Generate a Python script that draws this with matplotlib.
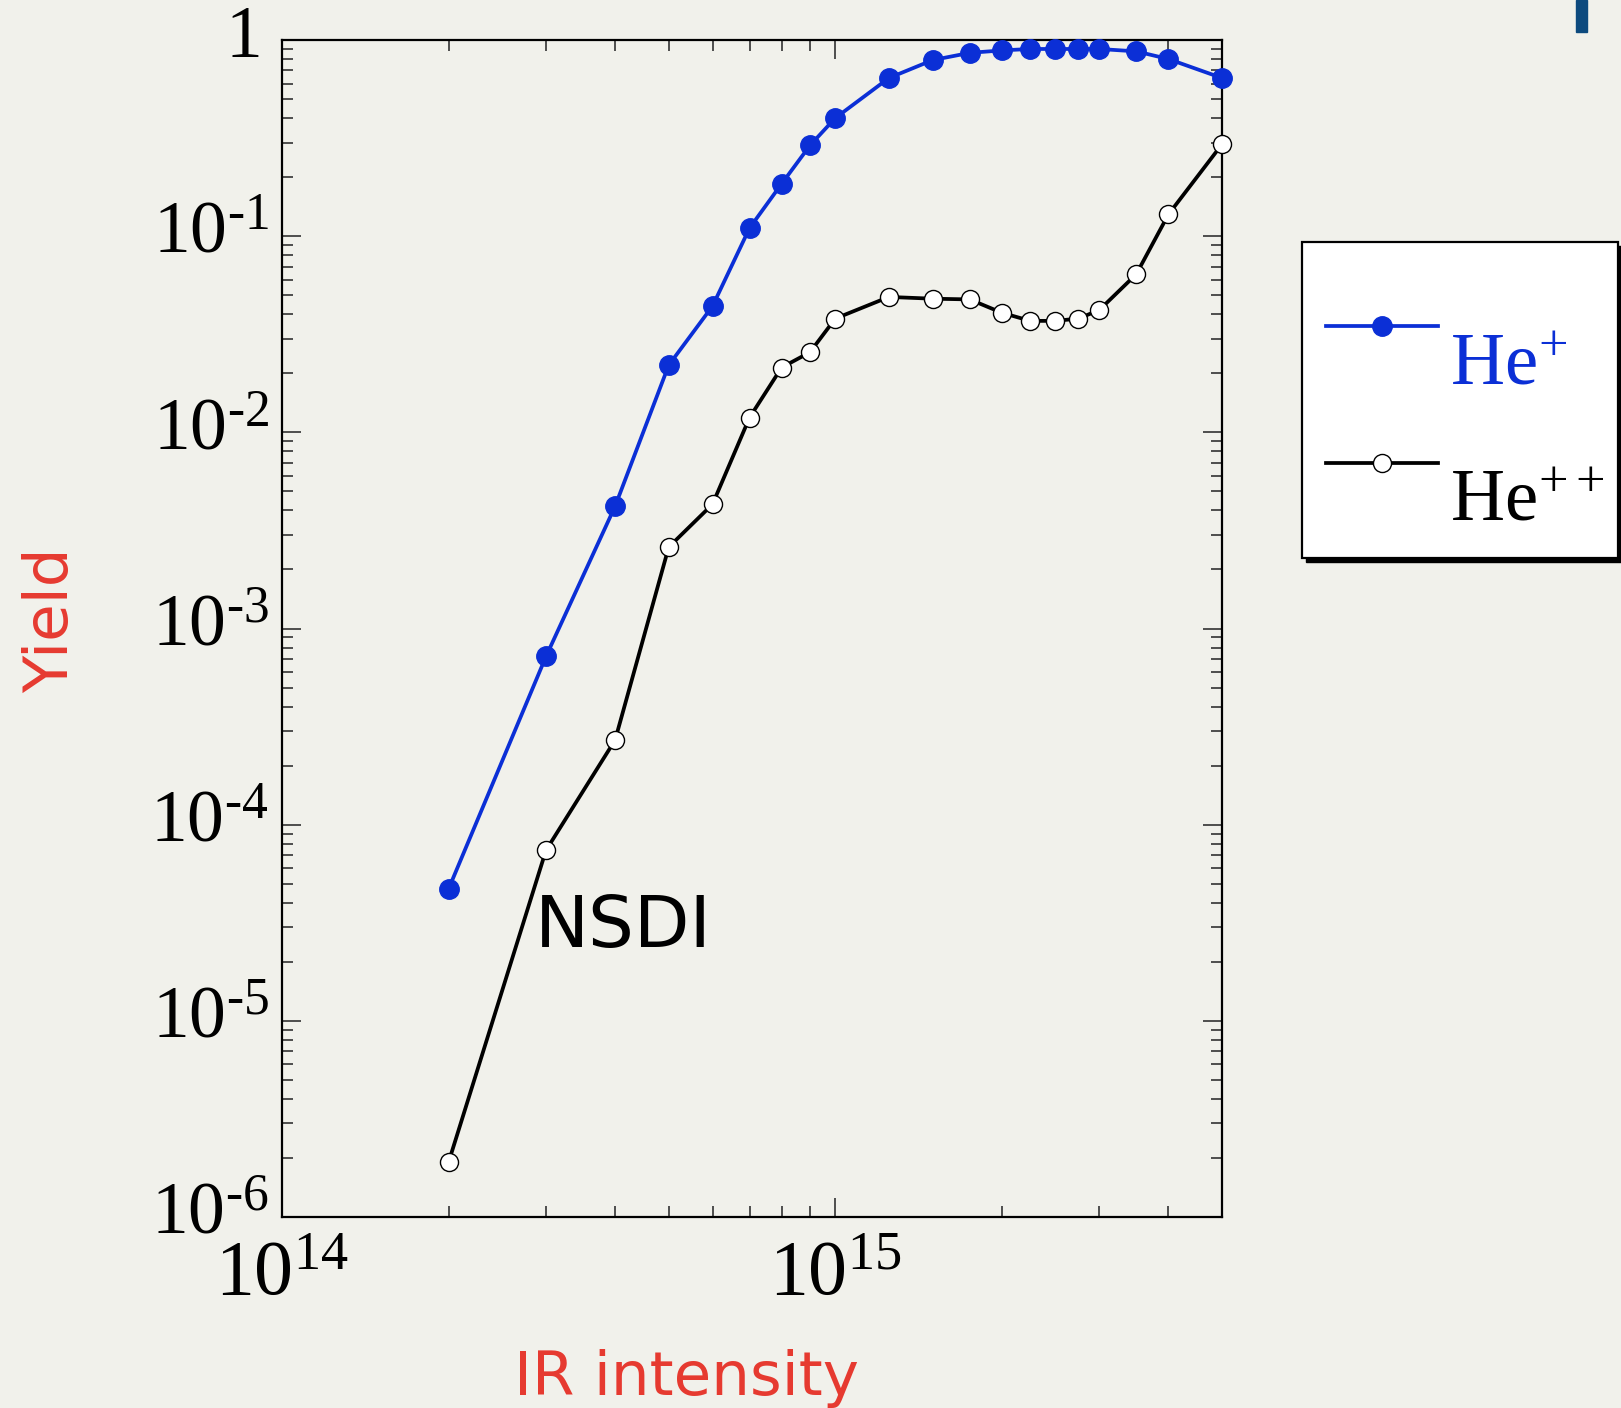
import matplotlib
matplotlib.use("Agg")
import matplotlib.pyplot as plt
from matplotlib.ticker import FixedLocator, FixedFormatter, LogLocator, NullFormatter
from matplotlib.patches import Rectangle
from matplotlib.transforms import ScaledTranslation

# ---- data ----
intensity = [2e14, 3e14, 4e14, 5e14, 6e14, 7e14, 8e14, 9e14, 1e15, 1.25e15,
             1.5e15, 1.75e15, 2e15, 2.25e15, 2.5e15, 2.75e15, 3e15, 3.5e15, 4e15, 5e15]
he_plus = [4.7e-5, 7.2e-4, 4.2e-3, 2.2e-2, 4.4e-2, 0.11, 0.185, 0.29, 0.40, 0.64,
           0.79, 0.86, 0.885, 0.90, 0.90, 0.90, 0.90, 0.875, 0.80, 0.64]
he_plusplus = [1.9e-6, 7.4e-5, 2.7e-4, 2.6e-3, 4.3e-3, 1.19e-2, 2.14e-2, 2.56e-2, 3.8e-2, 4.9e-2,
               4.8e-2, 4.76e-2, 4.07e-2, 3.7e-2, 3.7e-2, 3.8e-2, 4.2e-2, 6.4e-2, 0.129, 0.294]
y_ticks = [1e-6, 1e-5, 1e-4, 1e-3, 1e-2, 1e-1, 1]
y_tick_labels = [r'$\mathrm{10^{\text{-}6}}$', r'$\mathrm{10^{\text{-}5}}$', r'$\mathrm{10^{\text{-}4}}$',
                 r'$\mathrm{10^{\text{-}3}}$', r'$\mathrm{10^{\text{-}2}}$', r'$\mathrm{10^{\text{-}1}}$',
                 r'$\mathrm{1}$']
x_ticks = [1e14, 1e15]
x_tick_labels = [r'$\mathrm{10^{14}}$', r'$\mathrm{10^{15}}$']
series_labels = [r'$\mathrm{He^{+}}$', r'$\mathrm{He^{++}}$']

BG = '#f1f1eb'
BLUE = '#0b2fd6'
RED = '#e63a30'
W, H = 1621, 1408

plt.rcParams['mathtext.fontset'] = 'custom'
plt.rcParams['mathtext.rm'] = 'Liberation Serif'
plt.rcParams['mathtext.it'] = 'Liberation Serif:italic'
plt.rcParams['mathtext.bf'] = 'Liberation Serif:bold'
plt.rcParams['font.family'] = ['Liberation Serif', 'DejaVu Serif']

fig = plt.figure(figsize=(W/100, H/100), dpi=100, facecolor=BG)
ax = fig.add_axes([282/W, 1 - 1217/H, (1222-282)/W, (1217-40)/H])
ax.set_facecolor(BG)

ax.plot(intensity, he_plus, '-o', color=BLUE, lw=2.7, ms=14, mfc=BLUE, mec=BLUE,
        clip_on=False, zorder=3, label=series_labels[0])
ax.plot(intensity, he_plusplus, '-o', color='black', lw=2.7, ms=13, mfc='white', mec='black',
        mew=1.0, clip_on=False, zorder=3, label=series_labels[1])

ax.set_xscale('log')
ax.set_yscale('log')
ax.set_xlim(1e14, 5e15)
ax.set_ylim(1e-6, 1)

ax.yaxis.set_major_locator(FixedLocator(y_ticks))
ax.yaxis.set_major_formatter(FixedFormatter(y_tick_labels))
ax.yaxis.set_minor_locator(LogLocator(base=10, subs=range(2, 10), numticks=20))
ax.yaxis.set_minor_formatter(NullFormatter())
ax.xaxis.set_major_locator(FixedLocator(x_ticks))
ax.xaxis.set_major_formatter(FixedFormatter(x_tick_labels))
ax.xaxis.set_minor_locator(LogLocator(base=10, subs=range(2, 10), numticks=20))
ax.xaxis.set_minor_formatter(NullFormatter())

ax.tick_params(which='both', direction='in', top=True, right=True, width=1.2, color='#333333')
ax.tick_params(which='major', length=14)
ax.tick_params(which='minor', length=8)
ax.tick_params(axis='y', which='major', labelsize=53, pad=16)
ax.tick_params(axis='x', which='major', labelsize=56, pad=16)
for s in ax.spines.values():
    s.set_linewidth(1.6)

# lift the y tick labels slightly (and nudge the 10^-n ones right), as in the reference
for lab, val in zip(ax.get_yticklabels(), y_ticks):
    dx = 0.0 if val == 1 else 0.09
    lab.set_transform(lab.get_transform() + ScaledTranslation(dx, 0.09, fig.dpi_scale_trans))

ax.text(2.86e14, 3e-5, 'NSDI', fontsize=52, family='DejaVu Sans', ha='left', va='center', color='black')

fig.text(52/W, 1 - 620/H, 'Yield', rotation=90, fontsize=44, family='DejaVu Sans',
         color=RED, ha='center', va='center')
fig.text(686/W, 0.009, 'IR intensity', fontsize=44, family='DejaVu Sans',
         color=RED, ha='center', va='baseline')

# legend frame (with drop shadow) in figure pixels
bx0, by0, bx1, by1 = 1302, 242, 1618, 558
fig.patches.append(Rectangle(((bx0 + 4)/W, 1 - (by1 + 4)/H), (bx1 - bx0)/W, (by1 - by0)/H,
                             transform=fig.transFigure, facecolor='black', edgecolor='black',
                             zorder=1))
fig.patches.append(Rectangle((bx0/W, 1 - by1/H), (bx1 - bx0)/W, (by1 - by0)/H,
                             transform=fig.transFigure, facecolor='white', edgecolor='black',
                             linewidth=1.6, zorder=1.1))

leg = fig.legend(loc='upper left', bbox_to_anchor=(bx0/W, 1 - 244/H), borderaxespad=0,
                 fontsize=54, frameon=False, handlelength=1.49, handleheight=3.52,
                 handletextpad=0.17, borderpad=0.32, labelspacing=-0.71,
                 labelcolor=[BLUE, 'black'])
leg.set_zorder(5)

fig.patches.append(Rectangle((1576/W, 1 - 32/H), 11/W, 32/H,
                             transform=fig.transFigure, color='#0d4a7e'))

fig.savefig('out.png', dpi=100, facecolor=BG)
